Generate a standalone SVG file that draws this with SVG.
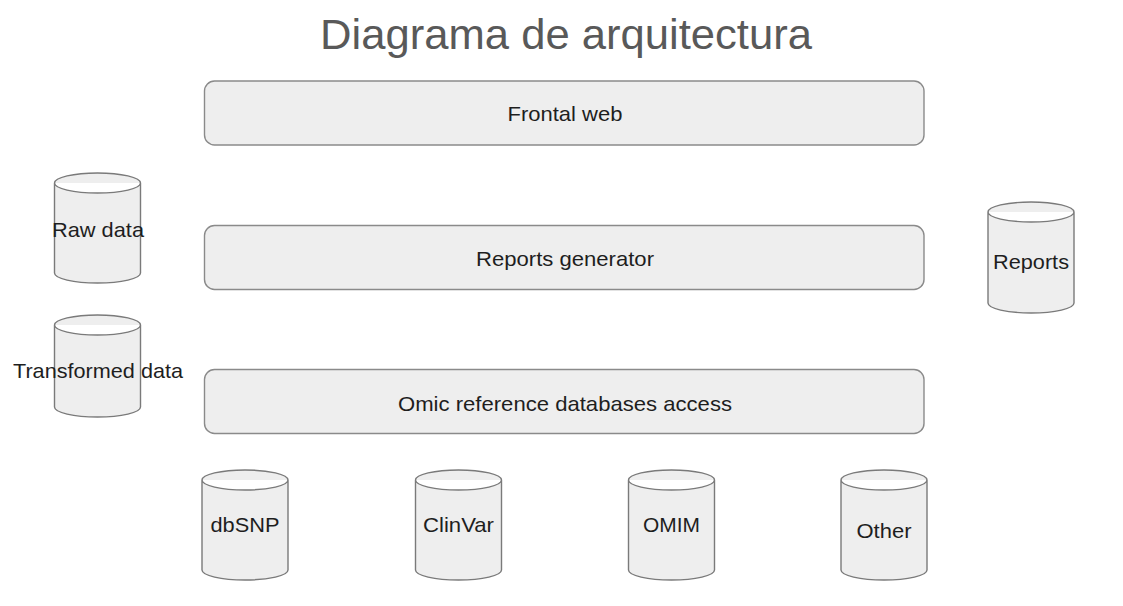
<svg xmlns="http://www.w3.org/2000/svg" width="1123" height="606" viewBox="0 0 1123 606">
<style>
.box{fill:#eeeeee;stroke:#8a8a8a;stroke-width:1.4}
.cyl{fill:#eeeeee;stroke:#7a7a7a;stroke-width:1.4}
.lbl{font-family:"Liberation Sans",Arial,sans-serif;font-size:21px;fill:#1e1e1e;text-anchor:middle}
.title{font-family:"Liberation Sans",Arial,sans-serif;font-size:43px;fill:#595959;text-anchor:middle}
</style>
<rect width="1123" height="606" fill="#ffffff"/>
<text class="title" x="566" y="49" textLength="492" lengthAdjust="spacingAndGlyphs">Diagrama de arquitectura</text>
<g id="frontal-web">
<rect class="box" x="204.5" y="81" width="719.5" height="64" rx="10"/>
<text class="lbl" x="565" y="121" textLength="115" lengthAdjust="spacingAndGlyphs">Frontal web</text>
</g>
<g id="reports-generator">
<rect class="box" x="204.5" y="225.5" width="719.5" height="64" rx="10"/>
<text class="lbl" x="565" y="266" textLength="178" lengthAdjust="spacingAndGlyphs">Reports generator</text>
</g>
<g id="omic-access">
<rect class="box" x="204.5" y="369.5" width="719.5" height="64" rx="10"/>
<text class="lbl" x="565" y="411" textLength="334" lengthAdjust="spacingAndGlyphs">Omic reference databases access</text>
</g>
<g id="raw-data">
<path class="cyl" d="M54.5,183 A43,10 0 0 1 140.5,183 L140.5,273 A43,10 0 0 1 54.5,273 Z M54.5,183 A43,10 0 0 0 140.5,183"/>
<text class="lbl" x="98" y="237" textLength="92" lengthAdjust="spacingAndGlyphs">Raw data</text>
</g>
<g id="transformed-data">
<path class="cyl" d="M54.5,325 A43,10 0 0 1 140.5,325 L140.5,407 A43,10 0 0 1 54.5,407 Z M54.5,325 A43,10 0 0 0 140.5,325"/>
<text class="lbl" x="98" y="378" textLength="170" lengthAdjust="spacingAndGlyphs">Transformed data</text>
</g>
<g id="reports">
<path class="cyl" d="M988,212 A43,10 0 0 1 1074,212 L1074,303 A43,10 0 0 1 988,303 Z M988,212 A43,10 0 0 0 1074,212"/>
<text class="lbl" x="1031" y="269" textLength="76" lengthAdjust="spacingAndGlyphs">Reports</text>
</g>
<g id="dbsnp">
<path class="cyl" d="M202,480 A43,10 0 0 1 288,480 L288,570 A43,10 0 0 1 202,570 Z M202,480 A43,10 0 0 0 288,480"/>
<text class="lbl" x="245" y="532" textLength="69" lengthAdjust="spacingAndGlyphs">dbSNP</text>
</g>
<g id="clinvar">
<path class="cyl" d="M415.5,480 A43,10 0 0 1 501.5,480 L501.5,570 A43,10 0 0 1 415.5,570 Z M415.5,480 A43,10 0 0 0 501.5,480"/>
<text class="lbl" x="458.5" y="532" textLength="71" lengthAdjust="spacingAndGlyphs">ClinVar</text>
</g>
<g id="omim">
<path class="cyl" d="M628.5,480 A43,10 0 0 1 714.5,480 L714.5,570 A43,10 0 0 1 628.5,570 Z M628.5,480 A43,10 0 0 0 714.5,480"/>
<text class="lbl" x="671.5" y="532" textLength="57" lengthAdjust="spacingAndGlyphs">OMIM</text>
</g>
<g id="other">
<path class="cyl" d="M841,480 A43,10 0 0 1 927,480 L927,570 A43,10 0 0 1 841,570 Z M841,480 A43,10 0 0 0 927,480"/>
<text class="lbl" x="884" y="538" textLength="55" lengthAdjust="spacingAndGlyphs">Other</text>
</g>
<g id="connectors"></g>
</svg>
